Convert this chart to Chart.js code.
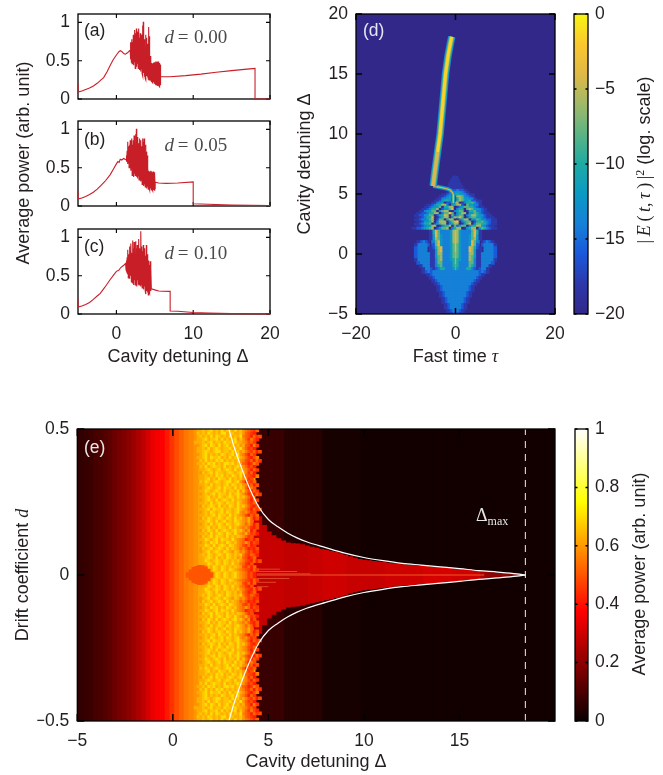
<!DOCTYPE html>
<html><head><meta charset="utf-8">
<style>html,body{margin:0;padding:0;background:#fff;width:663px;height:775px;overflow:hidden}canvas{position:absolute;left:0;top:0}</style>
<script src="https://cdn.jsdelivr.net/npm/chart.js@4"></script>
</head><body>
<script>
// ---------- panels a-c: line data ----------
const lineABefore=[[-5,0.2],[-5,0.09],[-4.5,0.105],[-4,0.125],[-3.5,0.145],[-3,0.17],[-2.5,0.205],[-2,0.25],[-1.66,0.28],[-1.2,0.36],[-0.8,0.44],[-0.4,0.515],[0,0.575],[0.3,0.615],[0.5,0.63],[0.7,0.62],[1.0,0.59],[1.16,0.585],[1.4,0.6],[1.8,0.64]];
const chaosAStart=1.8;
const chaosAHi=[.70,.74,.78,.74,.84,.80,.90,.86,.92,.84,.88,.92,.80,.86,.72,.84,.96,1.01,.78,.70,.84,.80,.66,.72,.94,.82,.56,.50,.47,.46,.47,.48,.47,.49,.48,.49,.48,.49,.47,.45];
const chaosALo=[.52,.48,.46,.52,.44,.48,.40,.44,.42,.46,.40,.44,.38,.36,.40,.33,.30,.34,.29,.27,.25,.30,.28,.26,.25,.28,.24,.23,.22,.21,.22,.20,.20,.19,.18,.17,.18,.17,.16,.18];
const lineAAfter=[[5.75,0.29],[7,0.29],[9,0.305],[11,0.325],[13,0.35],[15,0.37],[17,0.39],[18.05,0.4],[18.05,0],[20,0]];

const lineBBefore=[[-5,0.2],[-5,0.09],[-4.5,0.105],[-4,0.125],[-3.5,0.15],[-3,0.18],[-2.5,0.22],[-2,0.27],[-1.5,0.32],[-0.8,0.41],[-0.4,0.48],[0,0.55],[0.2,0.58],[0.35,0.57],[0.5,0.61],[0.7,0.6],[0.95,0.62],[1.3,0.6]];
const chaosBStart=1.3;
const chaosBHi=[.66,.72,.84,.78,.80,.86,.82,.88,.80,.86,.92,.84,.94,1.01,.84,.90,.82,.88,.80,.86,.78,.88,.84,.88,.72,.80,.71,.66,.50,.46,.45,.44,.46,.45,.44,.45,.44,.42];
const chaosBLo=[.58,.55,.56,.50,.54,.46,.48,.40,.44,.38,.42,.40,.44,.38,.36,.40,.34,.38,.32,.34,.28,.32,.26,.28,.25,.26,.23,.25,.22,.24,.21,.23,.21,.22,.20,.21,.20,.22];
const lineBAfter=[[5.05,0.31],[5.5,0.3],[6.5,0.295],[8,0.3],[10,0.315],[10,0.03],[12,0.022],[15,0.012],[20,0.006]];

const lineCBefore=[[-5,0.2],[-5,0.09],[-4.5,0.105],[-4,0.125],[-3.5,0.15],[-3,0.19],[-2.5,0.235],[-2.1,0.27],[-1.5,0.35],[-0.8,0.45],[-0.4,0.505],[0,0.557],[0.3,0.57],[0.6,0.61],[1,0.64]];
const chaosCStart=1.2;
const chaosCHi=[.66,.70,.74,.84,.78,.88,.82,.92,.80,.96,.86,.94,.82,.95,.86,.90,.84,.98,.86,.84,1.08,.88,.82,.90,.80,.86,.76,.90,.78,.72,.70,.64,.69,.60];
const chaosCLo=[.58,.56,.52,.47,.54,.46,.50,.42,.46,.40,.38,.44,.38,.42,.36,.44,.39,.38,.42,.36,.39,.34,.38,.32,.36,.30,.26,.30,.28,.25,.29,.27,.30,.33];
const lineCAfter=[[4.6,0.33],[5,0.315],[5.5,0.3],[6,0.298],[7,0.296],[7,0.04],[8,0.035],[10,0.02],[12,0.012],[15,0.005],[20,0.002]];

const powerTicks=[0,0.5,1];
const powerTickLabels=['0','0.5','1'];
const detuneTicks=[0,10,20];
const detuneTickLabels=['0','10','20'];

// ---------- panel d ----------
const tauTicks=[-20,0,20];
const tauTickLabels=['\u221220','0','20'];
const deltaTicks=[-5,0,5,10,15,20];
const deltaTickLabels=['\u22125','0','5','10','15','20'];
const logTicks=[-20,-15,-10,-5,0];
const logTickLabels=['\u221220','\u221215','\u221210','\u22125','0'];
// colour per log level (level code 0..a = -20,-18,...,0)
const parula=['#32288a','#2d38aa','#1a58dc','#1680d8','#0a9ac4','#1eaaa4','#5cb484','#a0b968','#e0b946','#fac82d','#f8f514'];
// soliton streak (tau, Delta)
const streakTau=[-4.5,-4.1,-3.6,-3.1,-2.55,-2.0,-1.5,-1.05,-0.75];
const streakDelta=[5.67,7,8.5,10,12.5,15,16.5,17.5,18.1];
const tailTau=[-4.5,-3.6,-2.6,-1.6,-1.07,-0.6,-0.4,-0.4,-0.5];
const tailDelta=[5.67,5.6,5.52,5.42,5.33,5.12,4.9,4.6,4.3];
// lower part: half map, tau = 0,0.5,...,12, mirrored about 0; Delta = 2,1.75,...,-5
const lowerRows=[
"87433336851",
"87433336851",
"87433346841",
"87433346741",
"8743334863.12321",
"8643334862.233331",
"86433387521.33332",
"86433387411.33332",
"76433377411333332",
"76433376411333332",
"75433376311333331",
"7533336631133332",
"653333653113331",
"64333553212331",
"33333333332321",
"333333333321",
"33333333321",
"3333333321",
"333333321",
"33333321",
"33333321",
"3333321",
"3333321",
"333321",
"333321",
"33321",
"33321",
"3321",
"321"];
// faint blob above the chaotic part: half widths of blob, Delta 6.4 .. 5.4
const blobDelta=[6.4,6.2,6,5.8,5.6,5.4];
const blobHalf=[0.3,0.6,0.9,1.1,1.3,1.5];
// chaotic part, tau = -8.5,-8,..., Delta = 5.3 down by 0.175
const chaosRows=[
"...............1223221............",
"..............123444321...........",
"............1123355443211.........",
"...........11234217763321.........",
"..........1133442057644331........",
".........1124554105764452211......",
"........11344022667013556421......",
"......1123557730457720644331......",
".....112344605577013466553211.....",
"....11235570244680355067644321....",
"...113446604677103466015563321....",
"..11223557703669604577044653211...",
".1122446602558706246603577544211..",
"..1123558013577047686025664432111.",
".112334670266057701357704465332211",
"..11244570377704689035660255643211",
".112355602467703577014680366553211",
"..1123447701355706246603557743211.",
"1122345670246670357701457704653211"];

// ---------- panel e ----------
const driftTicks=[-0.5,0,0.5];
const driftTickLabels=['\u22120.5','0','0.5'];
const detuneETicks=[-5,0,5,10,15];
const detuneETickLabels=['\u22125','0','5','10','15'];
const powerBarTicks=[0,0.2,0.4,0.6,0.8,1];
const powerBarLabels=['0','0.2','0.4','0.6','0.8','1'];
// one power per 0.25 of Delta, from -5 to 20
const basePower=[.055,.06,.068,.075,.09,.10,.11,.125,.15,.165,.18,.20,.22,.25,.275,.31,.345,.36,.375,.41,.45,.49,.52,.55,.57,.59,
.62,.62,.62,.62,.62,.62,.62,.62,.62,.62,.62,.62,
.07,.07,.07,.07,.07,.07,.045,.045,.045,.045,.045,.045,.045,.045,.02,.02,.02,.02,.02,.02,.02,.02,
.012,.012,.012,.012,.012,.012,.012,.012,.012,.012,.012,.012,.012,.012,.012,.012,.012,.012,.012,.012,.012,.012,.012,.012,.012,.012,.012,.012,.012,.012,.012,.012,.012,.012,.012,.012,.012,.012,.012,.012,.012];
const wedgeDelta=[4.25,4.5,4.75,5,5.25,5.5,5.75,6,6.25,6.5,6.75,7,7.25,7.5,7.75,8,8.25,8.5,8.75,9,9.25,9.5,9.75,10,10.25,10.5,10.75,11,11.25,11.5,11.75,12,12.25,12.5,12.75,13,13.25,13.5,13.75,14,14.25,14.5,14.75,15,15.25,15.5,15.75,16,16.25,16.5,16.75,17,17.25,17.5,17.75,18];
const wedgeHalf=[.22,.2,.17,.148,.135,.125,.117,.11,.108,.107,.104,.10,.096,.092,.088,.085,.081,.078,.073,.068,.063,.058,.054,.051,.049,.047,.045,.043,.041,.039,.037,.036,.034,.033,.032,.031,.03,.028,.027,.026,.024,.023,.021,.02,.018,.016,.015,.013,.012,.01,.008,.007,.006,.005,.004,.003];
const wedgePower=[.29,.29,.29,.29,.29,.29,.29,.28,.28,.28,.28,.28,.29,.29,.29,.30,.30,.30,.30,.30,.29,.29,.29,.29,.29,.29,.29,.29,.30,.30,.30,.30,.30,.30,.30,.30,.31,.31,.31,.31,.31,.31,.30,.30,.30,.30,.30,.30,.25,.22,.20,.20,.20,.18,.16,.14];
// speckle, upper half, Delta = 1.2 + 0.14*column; digit n means power .42+.035n; mirrored to lower half
const speckleRows=[
"566767867686776867543213","57676876768867766753210","5676768687676867684320312","566786778686767857531420",
"66676786776877686654231",".56786876867867675632041",".6676867876778676853120",".667876788677686756421302",
".5678676768767868542031",".66786877867686786531024",".576867687867676754213031",".66768786768878675320142",
".5768678776867678653120","..6678767867876867542031","..576786877678767864130","..6676768786768768532104",
"..66786768776867675412",".5768767876788678530213","..6676867767868767541302","..567876786877686763042",
"..6687678768677685742031","..56767868776867865312031","..66786768767876867531","..5678768678768676542031",
"..667686787687768654213","..5767876867687686753102","..66786877867767865420312","..567687678687678545312",
"..6676786877686765420313","..5768767876876867546302","..66787686786768765463","..5676867876876786535302",
"..6678676877686765453102","..576876867876786753502","..6676867876876865463120","..57678687768676765312",
"..6687678687768654301202","..5676878676876754353021","..668768678768765421301","..5767867876867653420102",
"..5678678768765764531201","..6768767876876767421320","...67876867687675632013","...6876787687676754210302",
"....687687687686643102","....5768768767676521303","......687687687654321031","......5768768676754302",
".......6876876786543120"];
const blobCenterDelta=[0.8,0.95,1.1,1.25,1.4,1.55,1.7,1.85,2.0];
const blobCenterHalf=[.008,.018,.026,.03,.033,.032,.028,.02,.008];
const curveDelta=[2.93,3.2,3.5,4,4.5,5,5.5,6,6.5,7,8,9,10,11,12,13,14,15,16,17,18,18.45];
const curveUpper=[.5,.44,.383,.30,.233,.19,.165,.144,.127,.114,.094,.075,.06,.049,.04,.034,.028,.022,.015,.01,.004,0];
const maxDelta=18.45;
const spikeSegments=[[4.4,6.5,.012],[4.4,5.6,.02],[4.4,6.1,-.012],[4.4,5.4,-.025],[4.4,5.0,-.04],[4.4,7.2,.004]];

// ---------- colour maps ----------
const hotStops=[[0,[10,0,0]],[.375,[255,0,0]],[.75,[255,255,0]],[1,[255,255,255]]];
function hot(v){for(let i=1;i<hotStops.length;i++){if(v<=hotStops[i][0]){const a=hotStops[i-1],b=hotStops[i],t=(v-a[0])/(b[0]-a[0]);
return `rgb(${a[1].map((c,k)=>Math.round(c+(b[1][k]-c)*t)).join(',')})`;}}return '#fff';}
function level(ch){return ch==='a'?10:(+ch);}

// ---------- helpers ----------
const SANS='"Liberation Sans"',SERIF='"Liberation Serif"';
const FS=18,TS=17.5,INK='#231f20';
function richText(ctx,item){
  ctx.save();ctx.fillStyle=item.color||INK;ctx.textBaseline='alphabetic';ctx.textAlign='left';
  ctx.translate(item.x,item.y);if(item.rot)ctx.rotate(item.rot);
  let w=0;for(const s of item.segs){ctx.font=s.f;w+=ctx.measureText(s.t).width;}
  let x=item.center?-w/2:0;
  for(const s of item.segs){ctx.font=s.f;ctx.fillText(s.t,x,s.dy||0);x+=ctx.measureText(s.t).width;}
  ctx.restore();
}
function axisOpts(ticks,labels,opt){
  const isX=opt.axisName==='x';
  const o=Object.assign({
  type:'linear',offset:false,grid:{display:false,drawTicks:false},border:{display:false},
  afterBuildTicks:a=>{a.ticks=ticks.map(v=>({value:v}));},
  ticks:{autoSkip:false,maxRotation:0,minRotation:0,color:INK,padding:isX?10:(opt.position==='right'?7:8),font:{family:'Liberation Sans',size:TS},
    callback:v=>{const i=ticks.indexOf(v);return labels?labels[i]:'';}}
},opt);delete o.axisName;return o;}
function panelPlugin(cfg){return {id:'panel',
  beforeDraw(c){if(cfg.bg){const a=c.chartArea;c.ctx.fillStyle=cfg.bg;c.ctx.fillRect(a.left,a.top,a.width,a.height);}},
  beforeDatasetsDraw(c){if(!cfg.frameOnTop)drawFrame(c);},
  afterDraw(c){if(cfg.frameOnTop)drawFrame(c);(cfg.texts||[]).forEach(t=>richText(c.ctx,t));}
};
function drawFrame(c){const x=c.ctx,a=c.chartArea,L=cfg.tick||4;
  x.save();x.strokeStyle='#000';x.lineWidth=cfg.lw||1.3;x.strokeRect(a.left,a.top,a.width,a.height);
  x.lineWidth=cfg.frameOnTop?1.5:1.1;x.beginPath();
  for(const t of (c.scales.x.options.display===false?[]:c.scales.x.ticks)){const p=c.scales.x.getPixelForValue(t.value);
    x.moveTo(p,a.bottom);x.lineTo(p,a.bottom-L);x.moveTo(p,a.top);x.lineTo(p,a.top+L);}
  for(const t of c.scales.y.ticks){const p=c.scales.y.getPixelForValue(t.value);
    x.moveTo(a.left,p);x.lineTo(a.left+L,p);x.moveTo(a.right,p);x.lineTo(a.right-L,p);}
  x.stroke();x.restore();}
}
function noMargins(s){s.paddingTop=0;s.paddingBottom=0;s.paddingLeft=0;s.paddingRight=0;}
function makeChart(rect,datasets,scales,cfg){
  const cv=document.createElement('canvas');cv.width=663;cv.height=775;cv.style.width='663px';cv.style.height='775px';document.body.appendChild(cv);
  const N=datasets.length;datasets.forEach((d,i)=>{d.order=N-i;});
  const yW=40,xH=30,right=cfg.rightAxis;
  scales.y.afterFit=s=>{s.width=yW;noMargins(s);};
  scales.x.afterFit=s=>{s.height=scales.x.display===false?0:xH;noMargins(s);};
  const hasX=scales.x.display!==false;
  return new Chart(cv,{type:'bar',data:{datasets},plugins:[panelPlugin(cfg)],options:{
    responsive:false,animation:false,devicePixelRatio:1,events:[],
    layout:{autoPadding:false,padding:{
      left:right?rect.l:rect.l-yW,right:right?663-rect.r-yW:663-rect.r,top:rect.t,bottom:hasX?775-rect.b-xH:775-rect.b}},
    plugins:{legend:{display:false},tooltip:{enabled:false}},scales}});
}
function cellSet(cells,thick){return {type:'bar',grouped:false,barThickness:thick,borderWidth:0,
  data:cells.map(c=>({x:c[0],y:[c[1],c[2]]})),backgroundColor:cells.map(c=>c[3])};}
function lineSet(xs,ys,color,w,extra){return Object.assign({type:'line',data:xs.map((x,i)=>({x,y:ys[i]})),borderColor:color,borderWidth:w,pointRadius:0,tension:0,fill:false,borderCapStyle:'butt',borderJoinStyle:'round',spanGaps:false},extra||{});}

// ---------- a,b,c ----------
function powerPoints(before,start,hi,lo,after){const p=before.map(q=>({x:q[0],y:q[1]}));
  hi.forEach((h,i)=>{const x=start+i*0.1;p.push({x,y:h});p.push({x:x+0.05,y:lo[i]});});
  after.forEach(q=>p.push({x:q[0],y:q[1]}));return p;}
function dTag(v,y){return {x:164.5,y,color:'#4a4a4a',segs:[{t:'d',f:`italic 19px ${SERIF}`},{t:'\u2009=\u2009\u200a'+v,f:`19px ${SERIF}`}]};}
function tag(t,x,y,color){return {x,y,color,segs:[{t,f:`${TS}px ${SANS}`}]};}
function powerPanel(rect,pts,showX,texts){
  return makeChart(rect,[{type:'line',data:pts,borderColor:'#c81e28',borderWidth:1.1,pointRadius:0,tension:0,clip:false}],{
    x:axisOpts(detuneTicks,showX?detuneTickLabels:null,{axisName:'x',min:-5,max:20}),
    y:axisOpts(powerTicks,powerTickLabels,{min:0,max:1.11})},{texts,tick:4});
}
const thePanels=[
 {r:{l:78,r:270,t:14,b:99},p:powerPoints(lineABefore,chaosAStart,chaosAHi,chaosALo,lineAAfter),x:false,t:[tag('(a)',84,36),dTag('0.00',42.7)]},
 {r:{l:78,r:270,t:121,b:206},p:powerPoints(lineBBefore,chaosBStart,chaosBHi,chaosBLo,lineBAfter),x:false,t:[tag('(b)',84,145),dTag('0.05',151)]},
 {r:{l:78,r:270,t:229,b:314},p:powerPoints(lineCBefore,chaosCStart,chaosCHi,chaosCLo,lineCAfter),x:true,t:[tag('(c)',84,252),dTag('0.10',259),
   {x:178,y:362,center:true,segs:[{t:'Cavity detuning \u0394',f:`${FS}px ${SANS}`}]},
   {x:29,y:163,rot:-Math.PI/2,center:true,segs:[{t:'Average power (arb. unit)',f:`${FS}px ${SANS}`}]}]}];
thePanels.forEach(q=>powerPanel(q.r,q.p,q.x,q.t));

// ---------- d ----------
(function(){
  const lower=[];
  lowerRows.forEach((row,i)=>{const D=2-i*0.25;[...row].forEach((ch,j)=>{if(ch==='.')return;const col=parula[level(ch)],tau=j*0.5;
    lower.push([tau,D-0.125,D+0.125,col]);if(j>0)lower.push([-tau,D-0.125,D+0.125,col]);});});
  const chaos=[];
  chaosRows.forEach((row,i)=>{const D=5.3-i*0.175;[...row].forEach((ch,j)=>{if(ch==='.'||ch===' ')return;
    chaos.push([-8.5+j*0.5,D-0.0875,D+0.0875,parula[level(ch)]]);});});
  const blob=[];blobDelta.forEach((D,i)=>{const h=blobHalf[i];for(let t=-h;t<=h;t+=0.5)blob.push([t,D-0.1,D+0.1,parula[1]]);});
  const upperIdx=streakTau.map((t,i)=>i).filter(i=>streakDelta[i]>=8.5);
  const lowIdx=streakTau.map((t,i)=>i).filter(i=>streakDelta[i]<=8.5);
  makeChart({l:356,r:555,t:14,b:314},[
    cellSet(blob,3),cellSet(lower,3),cellSet(chaos,3),
    lineSet(tailTau,tailDelta,parula[3],4),lineSet(tailTau,tailDelta,parula[5],2.5),lineSet(tailTau,tailDelta,parula[8],1.2),
    lineSet(streakTau,streakDelta,parula[3],7.5),lineSet(streakTau,streakDelta,parula[5],6),lineSet(streakTau,streakDelta,parula[7],4.4),
    lineSet(upperIdx.map(i=>streakTau[i]),upperIdx.map(i=>streakDelta[i]),'#fad228',3),
    lineSet(lowIdx.map(i=>streakTau[i]),lowIdx.map(i=>streakDelta[i]),'#dcb450',3)
  ],{x:axisOpts(tauTicks,tauTickLabels,{axisName:'x',min:-20,max:20}),y:axisOpts(deltaTicks,deltaTickLabels,{min:-5,max:20})},
  {bg:parula[0],frameOnTop:true,tick:6,texts:[tag('(d)',363,36,'#e6e6f0'),
    {x:455.5,y:362,center:true,segs:[{t:'Fast time ',f:`${FS}px ${SANS}`},{t:'\u03c4',f:`italic ${FS}px ${SERIF}`}]},
    {x:310,y:164,rot:-Math.PI/2,center:true,segs:[{t:'Cavity detuning \u0394',f:`${FS}px ${SANS}`}]}]});
})();
function colorbar(rect,lo,hi,stops,ticks,labels,texts){
  return makeChart(rect,[{type:'bar',grouped:false,barThickness:rect.r-rect.l+1,borderWidth:0,data:[{x:0,y:[lo,hi]}],
    backgroundColor:c=>{const a=c.chart.chartArea;if(!a)return '#000';const g=c.chart.ctx.createLinearGradient(0,a.bottom,0,a.top);stops.forEach(s=>g.addColorStop(s[0],s[1]));return g;}}],
   {x:{type:'linear',display:false,min:-1,max:1,offset:false},y:axisOpts(ticks,labels,{min:lo,max:hi,position:'right'})},
   {frameOnTop:true,tick:2.5,rightAxis:true,texts});
}
colorbar({l:574,r:588,t:14,b:314},-20,0,parula.map((c,i)=>[i/10,c]),logTicks,logTickLabels,[
  {x:650,y:160,rot:-Math.PI/2,center:true,segs:[{t:'|\u2009',f:`${FS}px ${SERIF}`},{t:'E',f:`italic ${FS}px ${SERIF}`},{t:'\u2009(\u2009',f:`${FS}px ${SERIF}`},{t:'t',f:`italic ${FS}px ${SERIF}`},{t:',\u2009',f:`${FS}px ${SERIF}`},{t:'\u03c4',f:`italic ${FS}px ${SERIF}`},{t:'\u2009)\u2009|',f:`${FS}px ${SERIF}`},{t:'2',f:`12px ${SERIF}`,dy:-6},{t:' (log. scale)',f:`${FS}px ${SANS}`}]}]);

// ---------- e ----------
(function(){
  const base=basePower.map((v,i)=>{const D=-5+i*0.25;return [D,-0.5,0.5,hot(v)];});
  const wedge=wedgeDelta.map((D,i)=>[D,-wedgeHalf[i],wedgeHalf[i],hot(wedgePower[i])]);
  const speck=[];
  speckleRows.forEach((row,i)=>{const up=0.5-i*0.0104;[...row].forEach((ch,j)=>{if(ch==='.')return;const D=1.2+j*0.14,col=hot(.42+.035*(+ch));
    speck.push([D,up-0.0104,up,col]);speck.push([D,-up,-up+0.0104,col]);});});
  const blob=blobCenterDelta.map((D,i)=>[D,-blobCenterHalf[i],blobCenterHalf[i],hot(.5)]);
  const spikeX=[],spikeY=[];spikeSegments.forEach(s=>{spikeX.push(s[0],s[1],s[1]);spikeY.push(s[2],s[2],null);});
  makeChart({l:77.3,r:555,t:429,b:721},[
    cellSet(base,6),cellSet(wedge,6),cellSet(speck,3),cellSet(blob,4),
    lineSet(spikeX,spikeY,'#dc4628',1),
    lineSet([4.4,16.3],[0,0],'#f05a28',1),lineSet([16.3,18.3],[0,0],'#820a0a',1),
    lineSet([maxDelta,maxDelta],[-0.5,0.5],'#dcdcdc',1.1,{borderDash:[7,6]}),
    lineSet(curveDelta,curveUpper,'#fff',1.2,{cubicInterpolationMode:'monotone'}),lineSet(curveDelta,curveUpper.map(v=>-v),'#fff',1.2,{cubicInterpolationMode:'monotone'})
  ],{x:axisOpts(detuneETicks,detuneETickLabels,{axisName:'x',min:-5,max:20}),y:axisOpts(driftTicks,driftTickLabels,{min:-0.5,max:0.5})},
  {frameOnTop:true,tick:7,texts:[tag('(e)',84,453,'#ebe6e6'),
    {x:476,y:521,color:'#e6e6e6',segs:[{t:'\u0394',f:`${FS}px ${SERIF}`},{t:'max',f:`12px ${SERIF}`,dy:4}]},
    {x:316,y:767,center:true,segs:[{t:'Cavity detuning \u0394',f:`${FS}px ${SANS}`}]},
    {x:28,y:575,rot:-Math.PI/2,center:true,segs:[{t:'Drift coefficient ',f:`${FS}px ${SANS}`},{t:'d',f:`italic ${FS}px ${SERIF}`}]}]});
})();
colorbar({l:575,r:588,t:429,b:721},0,1,hotStops.map(s=>[s[0],`rgb(${s[1].join(',')})`]),powerBarTicks,powerBarLabels,[
  {x:645,y:574,rot:-Math.PI/2,center:true,segs:[{t:'Average power (arb. unit)',f:`${FS}px ${SANS}`}]}]);
</script>
</body></html>
